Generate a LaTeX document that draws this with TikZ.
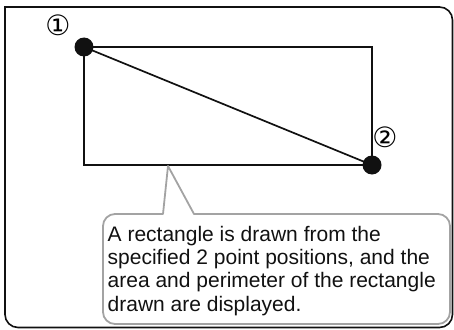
\documentclass[tikz,border=0pt]{standalone}
\usepackage{fontspec}
\setmainfont{Liberation Sans}
\newfontfamily\markfont{DejaVu Sans}
\usetikzlibrary{positioning,calc}
\definecolor{notegray}{HTML}{A3A3A3}
\definecolor{inkblack}{HTML}{111111}
\tikzset{
  outerframe/.style={
    draw=inkblack,
    line width=1.6pt,
    line cap=rect
  },
  rectline/.style={draw=inkblack,line width=1.7pt},
  ptdot/.style={
    circle,
    fill=inkblack,
    inner sep=0pt,
    minimum size=19pt
  },
  ptlabel/.style={font=\markfont\fontsize{28}{28}\selectfont,inner sep=0pt},
  noteline/.style={draw=notegray,line width=1.8pt,line join=round},
  notetext/.style={
    align=left,
    inner sep=0pt,
    text=inkblack,
    font=\fontsize{21}{23.4}\selectfont
  }
}

\begin{document}
\begin{tikzpicture}[x=1pt,y=-1pt]
\useasboundingbox (0,0) rectangle (454,329);
% frame
\draw[outerframe] (5,7) [rounded corners=13pt] -- (452.5,7) -- (452.5,327.5) -- (5,327.5) -- (5,7);
% the two points and the rectangle
\coordinate (cornerone) at (84,47);
\coordinate (cornertwo) at (372,165);
\draw[rectline] (cornerone) rectangle (cornertwo);
\draw[rectline] (cornerone) -- (cornertwo);
\node[ptdot] (pone) at (cornerone) {};
\node[ptdot] (ptwo) at (cornertwo) {};
\node[ptlabel] (lone) at (58,25) {①};
\node[ptlabel] (ltwo) at (385,137) {②};
% callout
\coordinate (tip) at (168,166);
\draw[noteline] (163,214) -- (tip) -- (194,214) -- (438,214) arc (-90:0:12)
  -- (450,312) arc (0:90:12) -- (115,324) arc (90:180:12)
  -- (103,226) arc (180:270:12) -- cycle;
\node[notetext,anchor=north west] (note) at (107.5,225.7)
  {A rectangle is drawn from the\\specified 2 point positions, and the\\area and perimeter of the rectangle\\drawn are displayed.};
\end{tikzpicture}
\end{document}
